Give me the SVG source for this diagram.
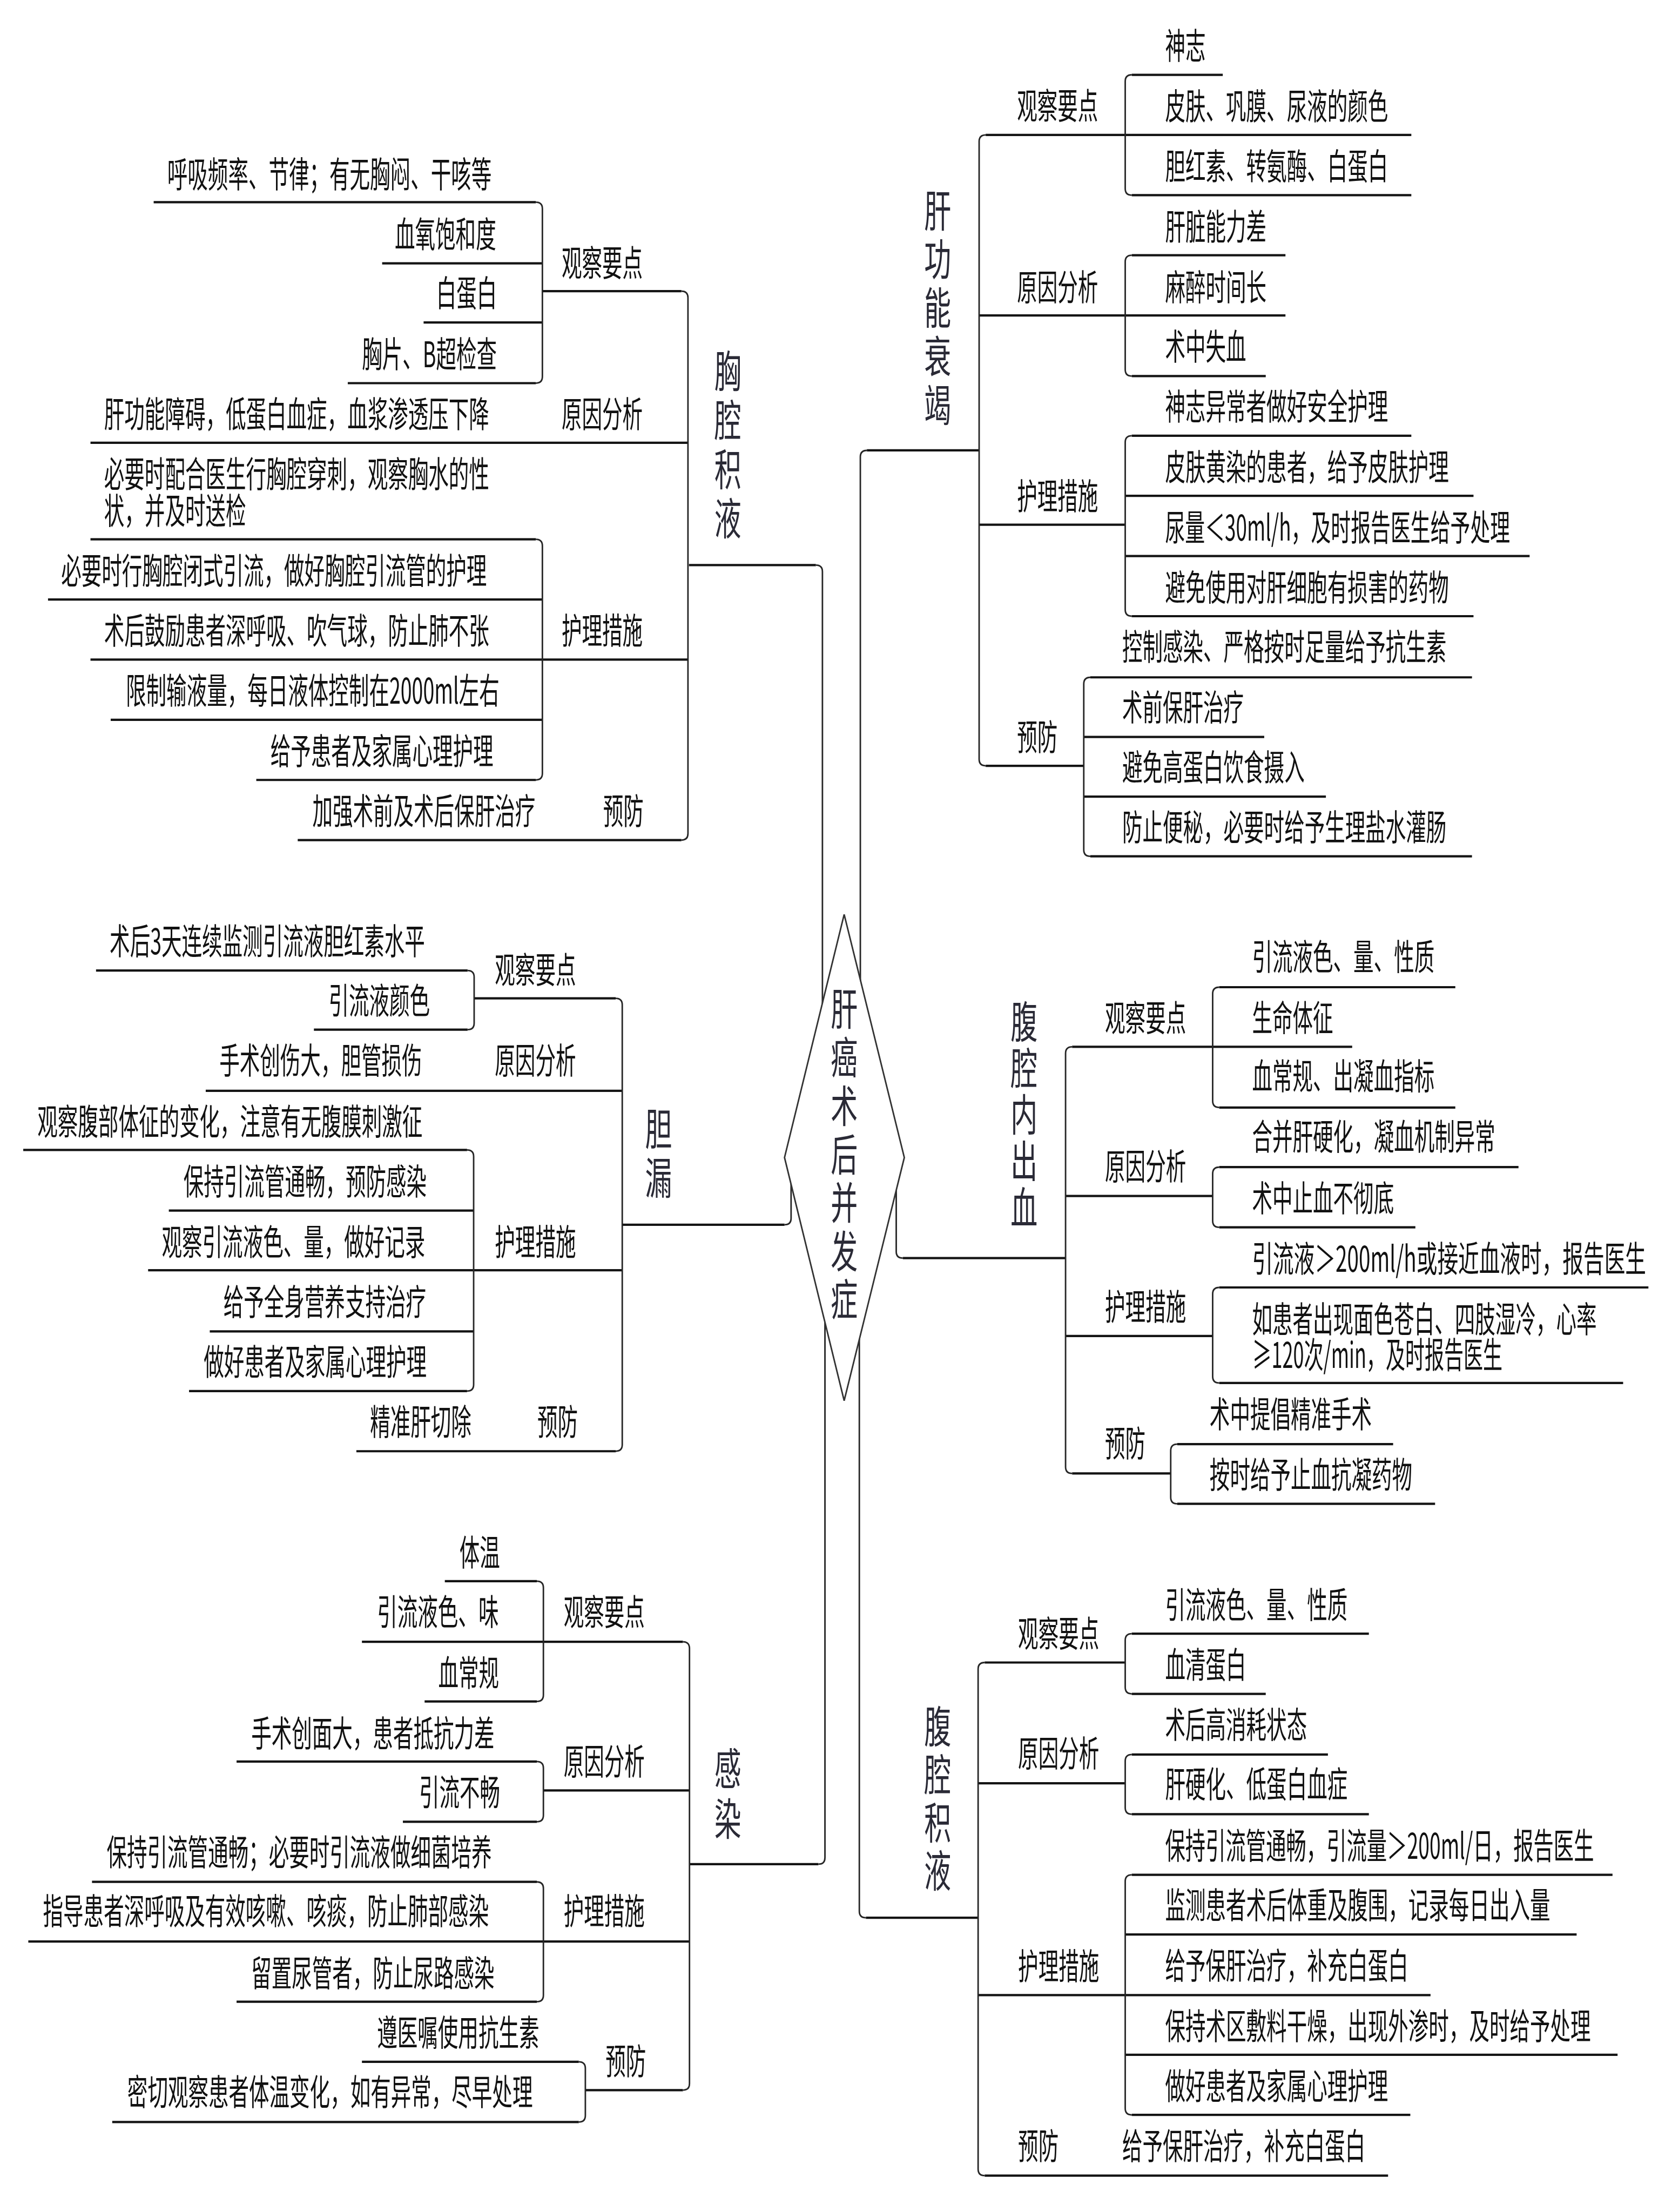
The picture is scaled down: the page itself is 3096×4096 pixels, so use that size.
<svg xmlns="http://www.w3.org/2000/svg" width="3096" height="4096" viewBox="0 0 3096 4096">
<style>
.h{fill:none;stroke:#141414;stroke-width:4.5;stroke-linecap:butt}
.v{fill:none;stroke:#262626;stroke-width:3}
.t{font-family:"Noto Sans CJK SC","Liberation Sans",sans-serif;font-size:70px;fill:#111}
.vt{font-family:"Noto Sans CJK SC","Liberation Sans",sans-serif;font-size:86px;fill:#2a2a36}
.dia{fill:#fff;stroke:#333;stroke-width:3}
</style>
<rect width="3096" height="4096" fill="#fff"/>
<g transform="scale(0.936)">
<g id="connectors">
<path class="h" d="M1363 1118H1614M304 400H1060M756 521H1073M1073 576H1348M838 638H1073M688 758H1060M179 876H1361M179 1067H1060M95 1186H1073M179 1305H1361M219 1424H1073M507 1543H1060M589 1662H1348"/>
<path class="h" d="M1715 891H1937M2239 148H2419M1950 267H2792M2239 386H2792M2239 505H2543M1937 624H2543M2239 744H2504M2239 862H2792M2226 981H2915M1937 1038H2226M2226 1100H3026M2239 1219H2915M2157 1340H2912M2144 1458H2501M1950 1515H2144M2144 1576H2623M2157 1694H2912"/>
<path class="h" d="M1231 2423H1552M190 1920H925M937 1975H1218M621 2037H925M407 2158H1231M46 2275H924M334 2395H937M293 2513H1231M415 2634H937M374 2752H924M705 2871H1218"/>
<path class="h" d="M1364 3688H1619M880 3128H1062M716 3248H1351M840 3366H1062M468 3485H1062M1075 3542H1364M797 3604H1062M182 3723H1062M56 3841H1364M468 3960H1062M716 4079H1145M1158 4135H1351M222 4198H1145"/>
<path class="h" d="M1786 2489H2108M2412 1953H2879M2121 2071H2675M2412 2191H2879M2412 2309H3004M2108 2366H2399M2412 2428H2800M2412 2547H3261M2108 2643H2399M2412 2736H3211M2329 2857H2756M2121 2915H2316M2329 2975H2839"/>
<path class="h" d="M1713 3794H1935M2239 3232H2708M1948 3289H2226M2239 3351H2504M2239 3471H2627M1935 3528H2226M2239 3589H2708M2239 3709H3190M2226 3827H3119M1935 3947H2830M2226 4065H3200M2239 4184H2790M1948 4304H2746"/>
<path class="v" d="M1627 1995V1131Q1627 1118 1614 1118M1702 1950V904Q1702 891 1715 891M1565 2325V2410Q1565 2423 1552 2423M1773 2340V2476Q1773 2489 1786 2489M1632 2600V3675Q1632 3688 1619 3688M1700 2640V3781Q1700 3794 1713 3794"/>
<path class="v" d="M1348 576Q1361 576 1361 589V1649Q1361 1662 1348 1662M1060 400Q1073 400 1073 413V745Q1073 758 1060 758M1060 1067Q1073 1067 1073 1080V1530Q1073 1543 1060 1543"/>
<path class="v" d="M1950 267Q1937 267 1937 280V1502Q1937 1515 1950 1515M2239 148Q2226 148 2226 161V373Q2226 386 2239 386M2239 505Q2226 505 2226 518V731Q2226 744 2239 744M2239 862Q2226 862 2226 875V1206Q2226 1219 2239 1219M2157 1340Q2144 1340 2144 1353V1681Q2144 1694 2157 1694"/>
<path class="v" d="M1218 1975Q1231 1975 1231 1988V2858Q1231 2871 1218 2871M925 1920Q938 1920 938 1933V2024Q938 2037 925 2037M924 2275Q937 2275 937 2288V2739Q937 2752 924 2752"/>
<path class="v" d="M1351 3248Q1364 3248 1364 3261V4122Q1364 4135 1351 4135M1062 3128Q1075 3128 1075 3141V3353Q1075 3366 1062 3366M1062 3485Q1075 3485 1075 3498V3591Q1075 3604 1062 3604M1062 3723Q1075 3723 1075 3736V3947Q1075 3960 1062 3960M1145 4079Q1158 4079 1158 4092V4185Q1158 4198 1145 4198"/>
<path class="v" d="M2121 2071Q2108 2071 2108 2084V2902Q2108 2915 2121 2915M2412 1953Q2399 1953 2399 1966V2178Q2399 2191 2412 2191M2412 2309Q2399 2309 2399 2322V2415Q2399 2428 2412 2428M2412 2547Q2399 2547 2399 2560V2723Q2399 2736 2412 2736M2329 2857Q2316 2857 2316 2870V2962Q2316 2975 2329 2975"/>
<path class="v" d="M1948 3289Q1935 3289 1935 3302V4291Q1935 4304 1948 4304M2239 3232Q2226 3232 2226 3245V3338Q2226 3351 2239 3351M2239 3471Q2226 3471 2226 3484V3576Q2226 3589 2239 3589M2239 3709Q2226 3709 2226 3722V4171Q2226 4184 2239 4184"/>
</g>
<g id="root">
<polygon class="dia" points="1670,1809 1789,2290 1670,2771 1552,2290"/>
<text class="vt" transform="matrix(0.62 0 0 1 1643.3 2028)">肝</text>
<text class="vt" transform="matrix(0.62 0 0 1 1643.3 2124)">癌</text>
<text class="vt" transform="matrix(0.62 0 0 1 1643.3 2220)">术</text>
<text class="vt" transform="matrix(0.62 0 0 1 1643.3 2316)">后</text>
<text class="vt" transform="matrix(0.62 0 0 1 1643.3 2411)">并</text>
<text class="vt" transform="matrix(0.62 0 0 1 1643.3 2507)">发</text>
<text class="vt" transform="matrix(0.62 0 0 1 1643.3 2603)">症</text>
</g>
<g id="xqjy">
<text class="vt" transform="matrix(0.62 0 0 1 1413.3 766)">胸</text>
<text class="vt" transform="matrix(0.62 0 0 1 1413.3 863)">腔</text>
<text class="vt" transform="matrix(0.62 0 0 1 1413.3 960)">积</text>
<text class="vt" transform="matrix(0.62 0 0 1 1413.3 1058)">液</text>
</g>
<g id="xqjy-obs"><text class="t" transform="matrix(0.573 0 0 1 1111 546)">观察要点</text></g>
<g id="xqjy-obs-1"><text class="t" transform="matrix(0.573 0 0 1 331 371)">呼吸频率、节律；有无胸闷、干咳等</text></g>
<g id="xqjy-obs-2"><text class="t" transform="matrix(0.573 0 0 1 781 489)">血氧饱和度</text></g>
<g id="xqjy-obs-3"><text class="t" transform="matrix(0.573 0 0 1 863 606)">白蛋白</text></g>
<g id="xqjy-obs-4"><text class="t" transform="matrix(0.573 0 0 1 716 727)">胸片、B超检查</text></g>
<g id="xqjy-cause"><text class="t" transform="matrix(0.573 0 0 1 1111 845)">原因分析</text></g>
<g id="xqjy-cause-1"><text class="t" transform="matrix(0.573 0 0 1 206 845)">肝功能障碍，低蛋白血症，血浆渗透压下降</text></g>
<g id="xqjy-care"><text class="t" transform="matrix(0.573 0 0 1 1111 1274)">护理措施</text></g>
<g id="xqjy-care-1"><text class="t" transform="matrix(0.573 0 0 1 206 964)">必要时配合医生行胸腔穿刺，观察胸水的性</text><text class="t" transform="matrix(0.573 0 0 1 206 1036)">状，并及时送检</text></g>
<g id="xqjy-care-2"><text class="t" transform="matrix(0.573 0 0 1 121 1155)">必要时行胸腔闭式引流，做好胸腔引流管的护理</text></g>
<g id="xqjy-care-3"><text class="t" transform="matrix(0.573 0 0 1 206 1274)">术后鼓励患者深呼吸、吹气球，防止肺不张</text></g>
<g id="xqjy-care-4"><text class="t" transform="matrix(0.573 0 0 1 249 1392)">限制输液量，每日液体控制在2000ml左右</text></g>
<g id="xqjy-care-5"><text class="t" transform="matrix(0.573 0 0 1 535 1512)">给予患者及家属心理护理</text></g>
<g id="xqjy-prev"><text class="t" transform="matrix(0.573 0 0 1 1193 1630)">预防</text></g>
<g id="xqjy-prev-1"><text class="t" transform="matrix(0.573 0 0 1 618 1630)">加强术前及术后保肝治疗</text></g>
<g id="ggsj">
<text class="vt" transform="matrix(0.62 0 0 1 1828.3 449)">肝</text>
<text class="vt" transform="matrix(0.62 0 0 1 1828.3 545)">功</text>
<text class="vt" transform="matrix(0.62 0 0 1 1828.3 641)">能</text>
<text class="vt" transform="matrix(0.62 0 0 1 1828.3 737)">衰</text>
<text class="vt" transform="matrix(0.62 0 0 1 1828.3 833)">竭</text>
</g>
<g id="ggsj-obs"><text class="t" transform="matrix(0.573 0 0 1 2012 235)">观察要点</text></g>
<g id="ggsj-obs-1"><text class="t" transform="matrix(0.573 0 0 1 2305 116)">神志</text></g>
<g id="ggsj-obs-2"><text class="t" transform="matrix(0.573 0 0 1 2305 236)">皮肤、巩膜、尿液的颜色</text></g>
<g id="ggsj-obs-3"><text class="t" transform="matrix(0.573 0 0 1 2305 355)">胆红素、转氨酶、白蛋白</text></g>
<g id="ggsj-cause"><text class="t" transform="matrix(0.573 0 0 1 2012 594)">原因分析</text></g>
<g id="ggsj-cause-1"><text class="t" transform="matrix(0.573 0 0 1 2305 474)">肝脏能力差</text></g>
<g id="ggsj-cause-2"><text class="t" transform="matrix(0.573 0 0 1 2305 594)">麻醉时间长</text></g>
<g id="ggsj-cause-3"><text class="t" transform="matrix(0.573 0 0 1 2305 712)">术中失血</text></g>
<g id="ggsj-care"><text class="t" transform="matrix(0.573 0 0 1 2012 1007)">护理措施</text></g>
<g id="ggsj-care-1"><text class="t" transform="matrix(0.573 0 0 1 2305 830)">神志异常者做好安全护理</text></g>
<g id="ggsj-care-2"><text class="t" transform="matrix(0.573 0 0 1 2305 950)">皮肤黄染的患者，给予皮肤护理</text></g>
<g id="ggsj-care-3"><text class="t" transform="matrix(0.563 0 0 1 2305 1069)">尿量＜30ml/h，及时报告医生给予处理</text></g>
<g id="ggsj-care-4"><text class="t" transform="matrix(0.573 0 0 1 2305 1188)">避免使用对肝细胞有损害的药物</text></g>
<g id="ggsj-prev"><text class="t" transform="matrix(0.573 0 0 1 2012 1484)">预防</text></g>
<g id="ggsj-prev-1"><text class="t" transform="matrix(0.573 0 0 1 2220 1306)">控制感染、严格按时足量给予抗生素</text></g>
<g id="ggsj-prev-2"><text class="t" transform="matrix(0.573 0 0 1 2220 1425)">术前保肝治疗</text></g>
<g id="ggsj-prev-3"><text class="t" transform="matrix(0.573 0 0 1 2220 1544)">避免高蛋白饮食摄入</text></g>
<g id="ggsj-prev-4"><text class="t" transform="matrix(0.573 0 0 1 2220 1662)">防止便秘，必要时给予生理盐水灌肠</text></g>
<g id="dl">
<text class="vt" transform="matrix(0.62 0 0 1 1276.3 2265)">胆</text>
<text class="vt" transform="matrix(0.62 0 0 1 1276.3 2362)">漏</text>
</g>
<g id="dl-obs"><text class="t" transform="matrix(0.573 0 0 1 979 1944)">观察要点</text></g>
<g id="dl-obs-1"><text class="t" transform="matrix(0.573 0 0 1 217 1888)">术后3天连续监测引流液胆红素水平</text></g>
<g id="dl-obs-2"><text class="t" transform="matrix(0.573 0 0 1 650 2005)">引流液颜色</text></g>
<g id="dl-cause"><text class="t" transform="matrix(0.573 0 0 1 979 2124)">原因分析</text></g>
<g id="dl-cause-1"><text class="t" transform="matrix(0.573 0 0 1 434 2124)">手术创伤大，胆管损伤</text></g>
<g id="dl-care"><text class="t" transform="matrix(0.573 0 0 1 979 2483)">护理措施</text></g>
<g id="dl-care-1"><text class="t" transform="matrix(0.573 0 0 1 74 2245)">观察腹部体征的变化，注意有无腹膜刺激征</text></g>
<g id="dl-care-2"><text class="t" transform="matrix(0.573 0 0 1 363 2363)">保持引流管通畅，预防感染</text></g>
<g id="dl-care-3"><text class="t" transform="matrix(0.573 0 0 1 320 2483)">观察引流液色、量，做好记录</text></g>
<g id="dl-care-4"><text class="t" transform="matrix(0.573 0 0 1 442 2602)">给予全身营养支持治疗</text></g>
<g id="dl-care-5"><text class="t" transform="matrix(0.573 0 0 1 403 2720)">做好患者及家属心理护理</text></g>
<g id="dl-prev"><text class="t" transform="matrix(0.573 0 0 1 1063 2839)">预防</text></g>
<g id="dl-prev-1"><text class="t" transform="matrix(0.573 0 0 1 732 2839)">精准肝切除</text></g>
<g id="gr">
<text class="vt" transform="matrix(0.62 0 0 1 1413.3 3531)">感</text>
<text class="vt" transform="matrix(0.62 0 0 1 1413.3 3630)">染</text>
</g>
<g id="gr-obs"><text class="t" transform="matrix(0.573 0 0 1 1115 3215)">观察要点</text></g>
<g id="gr-obs-1"><text class="t" transform="matrix(0.573 0 0 1 909 3097)">体温</text></g>
<g id="gr-obs-2"><text class="t" transform="matrix(0.573 0 0 1 746 3215)">引流液色、味</text></g>
<g id="gr-obs-3"><text class="t" transform="matrix(0.573 0 0 1 867 3335)">血常规</text></g>
<g id="gr-cause"><text class="t" transform="matrix(0.573 0 0 1 1115 3511)">原因分析</text></g>
<g id="gr-cause-1"><text class="t" transform="matrix(0.573 0 0 1 497 3455)">手术创面大，患者抵抗力差</text></g>
<g id="gr-cause-2"><text class="t" transform="matrix(0.573 0 0 1 829 3572)">引流不畅</text></g>
<g id="gr-care"><text class="t" transform="matrix(0.573 0 0 1 1115 3807)">护理措施</text></g>
<g id="gr-care-1"><text class="t" transform="matrix(0.573 0 0 1 211 3690)">保持引流管通畅；必要时引流液做细菌培养</text></g>
<g id="gr-care-2"><text class="t" transform="matrix(0.573 0 0 1 85 3807)">指导患者深呼吸及有效咳嗽、咳痰，防止肺部感染</text></g>
<g id="gr-care-3"><text class="t" transform="matrix(0.573 0 0 1 497 3930)">留置尿管者，防止尿路感染</text></g>
<g id="gr-prev"><text class="t" transform="matrix(0.573 0 0 1 1198 4104)">预防</text></g>
<g id="gr-prev-1"><text class="t" transform="matrix(0.573 0 0 1 746 4047)">遵医嘱使用抗生素</text></g>
<g id="gr-prev-2"><text class="t" transform="matrix(0.573 0 0 1 252 4165)">密切观察患者体温变化，如有异常，尽早处理</text></g>
<g id="fqncx">
<text class="vt" transform="matrix(0.62 0 0 1 1999.3 2053)">腹</text>
<text class="vt" transform="matrix(0.62 0 0 1 1999.3 2145)">腔</text>
<text class="vt" transform="matrix(0.62 0 0 1 1999.3 2237)">内</text>
<text class="vt" transform="matrix(0.62 0 0 1 1999.3 2329)">出</text>
<text class="vt" transform="matrix(0.62 0 0 1 1999.3 2421)">血</text>
</g>
<g id="fqncx-obs"><text class="t" transform="matrix(0.573 0 0 1 2186 2039)">观察要点</text></g>
<g id="fqncx-obs-1"><text class="t" transform="matrix(0.573 0 0 1 2477 1919)">引流液色、量、性质</text></g>
<g id="fqncx-obs-2"><text class="t" transform="matrix(0.573 0 0 1 2477 2039)">生命体征</text></g>
<g id="fqncx-obs-3"><text class="t" transform="matrix(0.573 0 0 1 2477 2155)">血常规、出凝血指标</text></g>
<g id="fqncx-cause"><text class="t" transform="matrix(0.573 0 0 1 2186 2333)">原因分析</text></g>
<g id="fqncx-cause-1"><text class="t" transform="matrix(0.573 0 0 1 2477 2275)">合并肝硬化，凝血机制异常</text></g>
<g id="fqncx-cause-2"><text class="t" transform="matrix(0.573 0 0 1 2477 2396)">术中止血不彻底</text></g>
<g id="fqncx-care"><text class="t" transform="matrix(0.573 0 0 1 2186 2611)">护理措施</text></g>
<g id="fqncx-care-1"><text class="t" transform="matrix(0.59 0 0 1 2477 2516)">引流液＞200ml/h或接近血液时，报告医生</text></g>
<g id="fqncx-care-2"><text class="t" transform="matrix(0.573 0 0 1 2477 2636)">如患者出现面色苍白、四肢湿冷，心率</text><text class="t" transform="matrix(0.55 0 0 1 2477 2706)">≥120次/min，及时报告医生</text></g>
<g id="fqncx-prev"><text class="t" transform="matrix(0.573 0 0 1 2186 2881)">预防</text></g>
<g id="fqncx-prev-1"><text class="t" transform="matrix(0.573 0 0 1 2393 2824)">术中提倡精准手术</text></g>
<g id="fqncx-prev-2"><text class="t" transform="matrix(0.573 0 0 1 2393 2943)">按时给予止血抗凝药物</text></g>
<g id="fqjy">
<text class="vt" transform="matrix(0.62 0 0 1 1828.3 3448)">腹</text>
<text class="vt" transform="matrix(0.62 0 0 1 1828.3 3543)">腔</text>
<text class="vt" transform="matrix(0.62 0 0 1 1828.3 3638)">积</text>
<text class="vt" transform="matrix(0.62 0 0 1 1828.3 3733)">液</text>
</g>
<g id="fqjy-obs"><text class="t" transform="matrix(0.573 0 0 1 2014 3258)">观察要点</text></g>
<g id="fqjy-obs-1"><text class="t" transform="matrix(0.573 0 0 1 2305 3201)">引流液色、量、性质</text></g>
<g id="fqjy-obs-2"><text class="t" transform="matrix(0.573 0 0 1 2305 3319)">血清蛋白</text></g>
<g id="fqjy-cause"><text class="t" transform="matrix(0.573 0 0 1 2014 3495)">原因分析</text></g>
<g id="fqjy-cause-1"><text class="t" transform="matrix(0.573 0 0 1 2305 3438)">术后高消耗状态</text></g>
<g id="fqjy-cause-2"><text class="t" transform="matrix(0.573 0 0 1 2305 3556)">肝硬化、低蛋白血症</text></g>
<g id="fqjy-care"><text class="t" transform="matrix(0.573 0 0 1 2014 3916)">护理措施</text></g>
<g id="fqjy-care-1"><text class="t" transform="matrix(0.57 0 0 1 2305 3677)">保持引流管通畅，引流量＞200ml/日，报告医生</text></g>
<g id="fqjy-care-2"><text class="t" transform="matrix(0.573 0 0 1 2305 3795)">监测患者术后体重及腹围，记录每日出入量</text></g>
<g id="fqjy-care-3"><text class="t" transform="matrix(0.573 0 0 1 2305 3914)">给予保肝治疗，补充白蛋白</text></g>
<g id="fqjy-care-4"><text class="t" transform="matrix(0.573 0 0 1 2305 4034)">保持术区敷料干燥，出现外渗时，及时给予处理</text></g>
<g id="fqjy-care-5"><text class="t" transform="matrix(0.573 0 0 1 2305 4153)">做好患者及家属心理护理</text></g>
<g id="fqjy-prev"><text class="t" transform="matrix(0.573 0 0 1 2014 4271)">预防</text></g>
<g id="fqjy-prev-1"><text class="t" transform="matrix(0.573 0 0 1 2220 4271)">给予保肝治疗，补充白蛋白</text></g>
</g>
</svg>
